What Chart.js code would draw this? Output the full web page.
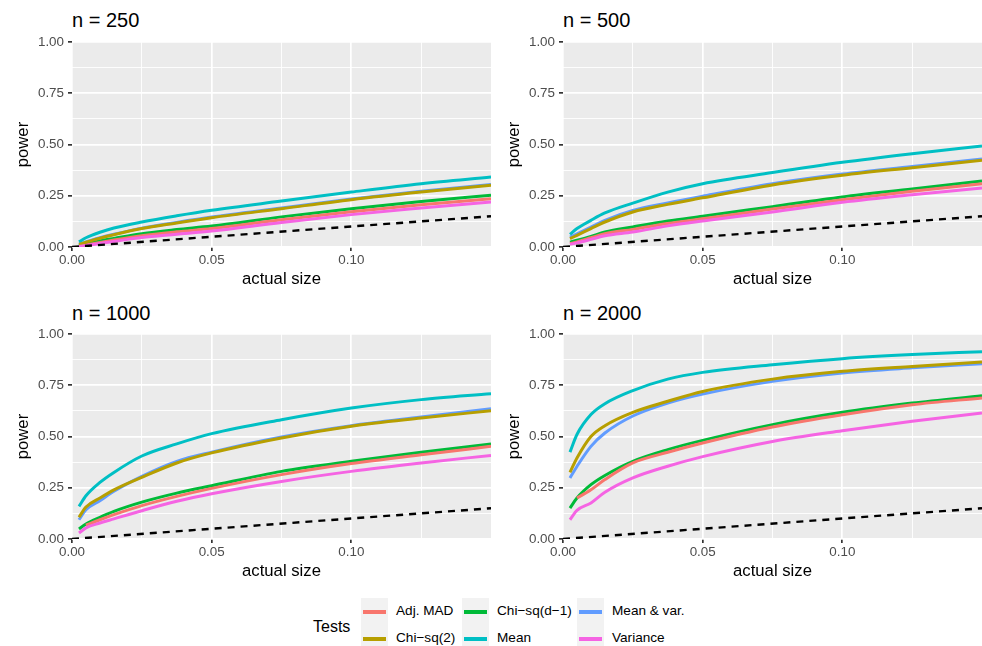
<!DOCTYPE html>
<html>
<head>
<meta charset="utf-8">
<script src="https://cdn.jsdelivr.net/npm/chart.js@4.4.0/dist/chart.umd.min.js"></script>
<style>
  body { margin: 0; background: #fff; font-family: "Liberation Sans", Arial, sans-serif; }
  #wrap { position: relative; width: 982px; height: 646px; overflow: hidden; }
  canvas { position: absolute; }
  .ptitle { position: absolute; font-size: 20px; line-height: 20px; color: #000; white-space: nowrap; }
  .key { position: absolute; width: 27px; height: 27px; background: #f2f2f2; }
  .key span { position: absolute; left: 2px; right: 2px; top: 12px; height: 3.5px; }
  .ltxt { position: absolute; font-size: 13.6px; line-height: 16px; color: #000; white-space: nowrap; }
</style>
</head>
<body>
<div id="wrap">
  <div class="ptitle" style="left:72px;top:10px">n = 250</div>
  <div class="ptitle" style="left:563px;top:10px">n = 500</div>
  <div class="ptitle" style="left:72px;top:303px">n = 1000</div>
  <div class="ptitle" style="left:563px;top:303px">n = 2000</div>
  <canvas id="c0" width="492" height="260"></canvas>
  <canvas id="c1" width="491" height="260"></canvas>
  <canvas id="c2" width="492" height="260"></canvas>
  <canvas id="c3" width="491" height="260"></canvas>
  <div id="legend"></div>
</div>
<script>
// actual size (x) at which power was read
var sizes = [0.0025, 0.005, 0.01, 0.015, 0.025, 0.0375, 0.05, 0.075, 0.10, 0.125, 0.15];

var tests = ['Adj. MAD', 'Chi\u2212sq(2)', 'Chi\u2212sq(d\u22121)', 'Mean', 'Mean & var.', 'Variance'];
var colors = ['#F8766D', '#B79F00', '#00BA38', '#00BFC4', '#619CFF', '#F564E3'];

var xTicks = [0, 0.025, 0.05, 0.075, 0.10, 0.125];
var yTicks = [0, 0.125, 0.25, 0.375, 0.5, 0.625, 0.75, 0.875, 1];

// rows in the order of tests
var power250 = [
  [0.004, 0.010, 0.022, 0.034, 0.055, 0.074, 0.090, 0.133, 0.172, 0.206, 0.236],
  [0.013, 0.023, 0.043, 0.060, 0.090, 0.117, 0.143, 0.187, 0.231, 0.268, 0.301],
  [0.007, 0.015, 0.030, 0.042, 0.065, 0.085, 0.102, 0.147, 0.187, 0.222, 0.252],
  [0.025, 0.045, 0.072, 0.093, 0.122, 0.152, 0.179, 0.224, 0.268, 0.309, 0.341],
  [0.015, 0.025, 0.045, 0.062, 0.092, 0.120, 0.146, 0.190, 0.234, 0.272, 0.305],
  [0.002, 0.007, 0.017, 0.027, 0.046, 0.062, 0.078, 0.120, 0.158, 0.190, 0.220]
];
var power500 = [
  [0.016, 0.025, 0.045, 0.065, 0.086, 0.115, 0.138, 0.185, 0.231, 0.272, 0.309],
  [0.041, 0.057, 0.090, 0.122, 0.171, 0.208, 0.240, 0.303, 0.350, 0.387, 0.423],
  [0.024, 0.033, 0.052, 0.073, 0.098, 0.127, 0.150, 0.197, 0.244, 0.283, 0.322],
  [0.062, 0.090, 0.130, 0.166, 0.214, 0.268, 0.309, 0.363, 0.413, 0.455, 0.493],
  [0.048, 0.064, 0.097, 0.130, 0.178, 0.215, 0.248, 0.309, 0.356, 0.393, 0.430],
  [0.013, 0.020, 0.037, 0.055, 0.073, 0.103, 0.127, 0.171, 0.218, 0.255, 0.288]
];
var power1000 = [
  [null, 0.067, 0.094, 0.119, 0.163, 0.208, 0.247, 0.314, 0.368, 0.411, 0.452],
  [0.106, 0.156, 0.200, 0.240, 0.301, 0.371, 0.420, 0.493, 0.550, 0.590, 0.626],
  [0.049, 0.073, 0.106, 0.135, 0.180, 0.224, 0.260, 0.330, 0.379, 0.423, 0.463],
  [0.159, 0.211, 0.276, 0.325, 0.405, 0.464, 0.514, 0.582, 0.639, 0.680, 0.709],
  [0.094, 0.143, 0.187, 0.233, 0.306, 0.379, 0.424, 0.498, 0.553, 0.595, 0.636],
  [0.029, 0.054, 0.078, 0.098, 0.138, 0.184, 0.221, 0.281, 0.330, 0.371, 0.408]
];
var power2000 = [
  [null, 0.200, 0.240, 0.290, 0.371, 0.423, 0.468, 0.546, 0.606, 0.655, 0.688],
  [0.325, 0.395, 0.500, 0.553, 0.618, 0.672, 0.720, 0.780, 0.818, 0.842, 0.863],
  [0.151, 0.200, 0.265, 0.310, 0.379, 0.436, 0.481, 0.558, 0.618, 0.663, 0.699],
  [0.424, 0.510, 0.607, 0.660, 0.724, 0.780, 0.813, 0.850, 0.880, 0.900, 0.914],
  [0.298, 0.354, 0.452, 0.517, 0.600, 0.663, 0.707, 0.769, 0.810, 0.835, 0.855],
  [0.094, 0.140, 0.176, 0.228, 0.298, 0.355, 0.402, 0.476, 0.528, 0.574, 0.615]
];

// nominal size line (y = x)
var refLine = [0, 0.15];

var FONT = '"Liberation Sans", Arial, sans-serif';

var panelBg = {
  id: 'panelBg',
  beforeDraw: function(chart) {
    var a = chart.chartArea, ctx = chart.ctx;
    ctx.save();
    ctx.fillStyle = '#EBEBEB';
    ctx.fillRect(a.left, a.top, a.right - a.left, a.bottom - a.top);
    ctx.restore();
  }
};

// draw order: dashed line on top, then tests
var drawOrder = [4, 3, 5, 6, 7, 2];

function buildConfig(rows) {
  var datasets = [];
  rows.forEach(function(vals, k) {
    datasets.push({
      label: tests[k],
      data: sizes.map(function(s, i) { return { x: s, y: vals[i] }; }),
      borderColor: colors[k],
      borderWidth: 3,
      pointRadius: 0,
      cubicInterpolationMode: 'monotone',
      order: drawOrder[k]
    });
  });
  datasets.push({
    label: 'nominal',
    data: refLine.map(function(v) { return { x: v, y: v }; }),
    borderColor: '#000',
    borderWidth: 2.4,
    borderDash: [7, 6],
    pointRadius: 0,
    order: 0
  });

  return {
    type: 'line',
    data: { datasets: datasets },
    plugins: [panelBg],
    options: {
      responsive: false,
      animation: false,
      devicePixelRatio: 1,
      layout: { padding: 0 },
      plugins: { legend: { display: false }, tooltip: { enabled: false } },
      scales: {
        x: {
          type: 'linear', min: 0, max: 0.15,
          afterBuildTicks: function(s) { s.ticks = xTicks.map(function(v) { return { value: v }; }); },
          afterFit: function(s) { s.height = 49; },
          border: { display: false },
          grid: {
            color: '#fff',
            lineWidth: function(c) { return c.index % 2 === 0 ? 1.7 : 0.9; },
            tickColor: function(c) { return c.index % 2 === 0 ? '#333' : 'rgba(0,0,0,0)'; },
            tickLength: 4
          },
          ticks: {
            autoSkip: false, maxRotation: 0, padding: 1,
            color: '#4D4D4D', font: { family: FONT, size: 13.4 },
            callback: function(v, i) { return i % 2 === 0 ? v.toFixed(2) : ''; }
          },
          title: { display: true, text: 'actual size', color: '#000', font: { family: FONT, size: 16.7 }, padding: { top: 0, bottom: 7 } }
        },
        y: {
          min: 0, max: 1,
          afterBuildTicks: function(s) { s.ticks = yTicks.map(function(v) { return { value: v }; }); },
          afterFit: function(s) { s.width = 72; },
          border: { display: false },
          grid: {
            color: '#fff',
            lineWidth: function(c) { return c.index % 2 === 0 ? 1.7 : 0.9; },
            tickColor: function(c) { return c.index % 2 === 0 ? '#333' : 'rgba(0,0,0,0)'; },
            tickLength: 4
          },
          ticks: {
            autoSkip: false, padding: 4,
            color: '#4D4D4D', font: { family: FONT, size: 13.4 },
            callback: function(v, i) { return i % 2 === 0 ? v.toFixed(2) : ''; }
          },
          title: { display: true, text: 'power', color: '#000', font: { family: FONT, size: 16.7 }, padding: { top: 13, bottom: 0 } }
        }
      }
    }
  };
}

// place the panel so its plot area lands at (plotLeft, plotTop), 419 x 205
function makePanel(id, rows, plotLeft, plotTop) {
  var canvas = document.getElementById(id);
  var probe = new Chart(canvas, buildConfig(rows));
  var t0 = probe.chartArea.top, l0 = probe.chartArea.left;
  probe.destroy();
  canvas.width = Math.round(l0 + 419);
  canvas.height = Math.round(t0 + 205 + 49);
  canvas.style.left = (plotLeft - l0) + 'px';
  canvas.style.top = (plotTop - t0) + 'px';
  new Chart(canvas, buildConfig(rows));
}

makePanel('c0', power250, 72, 42);
makePanel('c1', power500, 563, 42);
makePanel('c2', power1000, 72, 334);
makePanel('c3', power2000, 563, 334);

// legend, ggplot style: title left, keys in 3 columns x 2 rows
var legend = document.getElementById('legend');
var html = '<div class="ltxt" style="left:313px;top:617px;font-size:16px;line-height:20px">Tests</div>';
var colX = [361, 462, 577];
var txtX = [396, 497, 612];
var rowY = [598, 625];
tests.forEach(function(t, k) {
  var c = Math.floor(k / 2), r = k % 2;
  html += '<div class="key" style="left:' + colX[c] + 'px;top:' + rowY[r] + 'px"><span style="background:' + colors[k] + '"></span></div>';
  html += '<div class="ltxt" style="left:' + txtX[c] + 'px;top:' + (rowY[r] + 5) + 'px">' + t.replace('&', '&amp;') + '</div>';
});
legend.innerHTML = html;
</script>
</body>
</html>
